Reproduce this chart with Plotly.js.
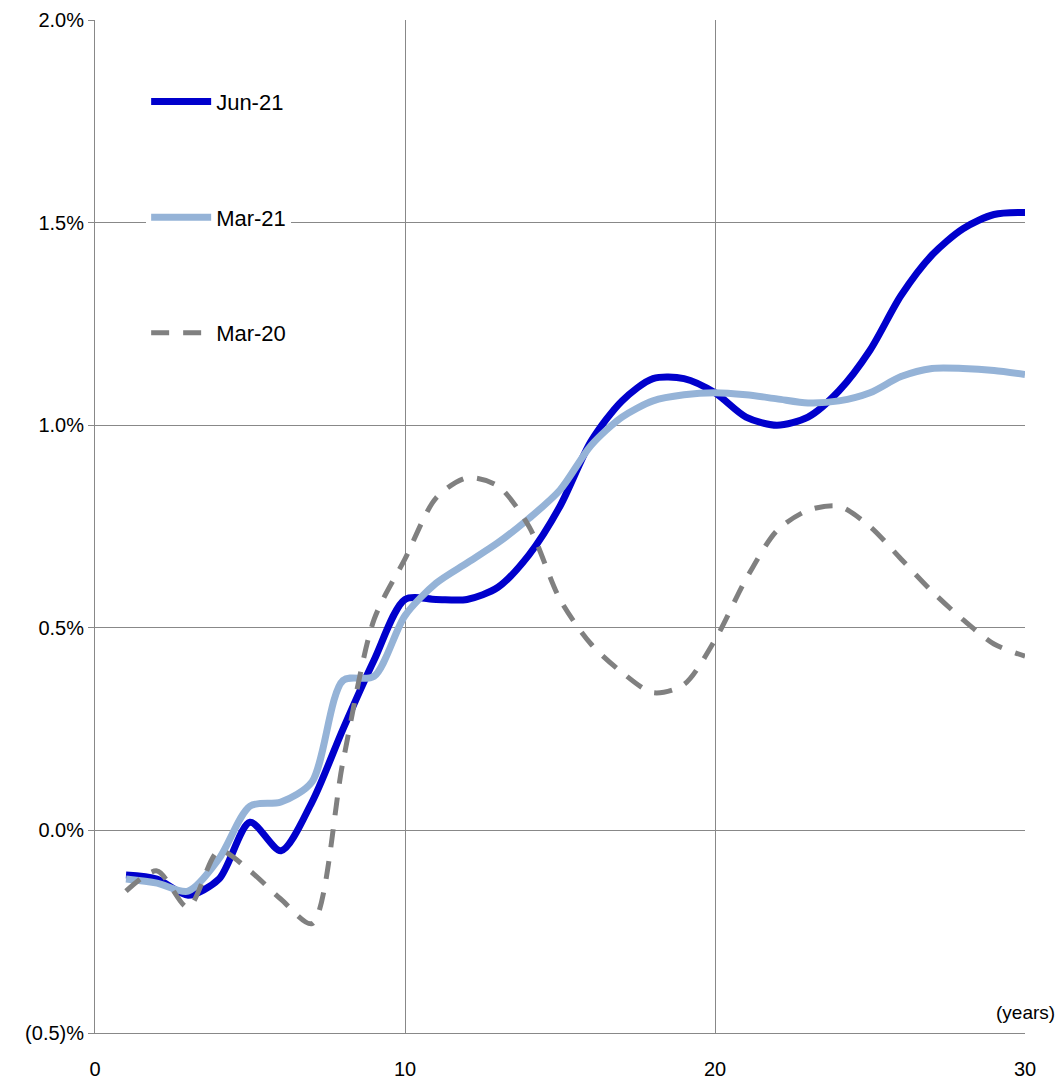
<!DOCTYPE html>
<html><head><meta charset="utf-8">
<script src="https://cdn.plot.ly/plotly-3.0.1.min.js"></script>
<style>body{margin:0;background:#fff}#c{width:1058px;height:1081px}</style>
</head><body><div id="c"></div>
<script>
"use strict";
const years = Array.from({length: 30}, (_, i) => i + 1);
const jun21 = [-0.11,-0.12,-0.16,-0.12,0.02,-0.05,0.07,0.25,0.42,0.57,0.57,0.57,0.60,0.68,0.80,0.96,1.06,1.115,1.115,1.08,1.02,1.00,1.02,1.085,1.185,1.32,1.42,1.485,1.52,1.525];
const mar21 = [-0.12,-0.13,-0.15,-0.07,0.06,0.07,0.12,0.37,0.38,0.53,0.61,0.66,0.71,0.77,0.84,0.95,1.02,1.06,1.075,1.08,1.075,1.065,1.055,1.06,1.08,1.12,1.14,1.14,1.135,1.125];
const mar20 = [-0.15,-0.10,-0.19,-0.05,-0.10,-0.17,-0.23,0.17,0.52,0.67,0.82,0.87,0.85,0.75,0.57,0.46,0.39,0.34,0.36,0.47,0.62,0.74,0.79,0.80,0.75,0.67,0.59,0.52,0.46,0.43];
const yTicks = [-0.5, 0, 0.5, 1.0, 1.5, 2.0];
const yLabels = ["(0.5)%", "0.0%", "0.5%", "1.0%", "1.5%", "2.0%"];

const mk = (name, y, color, width, dash) => ({
  type: "scatter", mode: "lines", name, legendgroup: name, x: years, y,
  line: {color, width, dash, shape: "spline", smoothing: 0.8}
});

Plotly.newPlot("c", [
  mk("Jun-21", jun21, "#0000cc", 7, "solid"),
  mk("Mar-21", mar21, "#95b3d7", 7, "solid"),
  mk("Mar-20", mar20, "#808080", 5, "18px,14px")
], {
  width: 1058, height: 1081,
  margin: {l: 95, r: 33, t: 20, b: 48},
  paper_bgcolor: "#fff", plot_bgcolor: "#fff",
  font: {family: "Liberation Sans, Arial, sans-serif", size: 20, color: "#000"},
  showlegend: true,
  legend: {x: 0.055, y: 0.94, xanchor: "left", yanchor: "top", bgcolor: "#fff",
    tracegroupgap: 84, itemwidth: 60, font: {size: 22}, traceorder: "grouped"},
  xaxis: {range: [0, 30], tickvals: [0, 10, 20, 30], showgrid: true, gridcolor: "#888",
    gridwidth: 1.3, zeroline: false, showline: true, linecolor: "#888", ticks: "outside",
    ticklen: 18, tickcolor: "rgba(0,0,0,0)"},
  yaxis: {range: [-0.5, 2.0], tickvals: yTicks, ticktext: yLabels, showgrid: true,
    gridcolor: "#888", gridwidth: 1.3, zeroline: false, showline: true, linecolor: "#888",
    ticks: "outside", ticklen: 6, tickcolor: "#888"},
  annotations: [{x: 30, y: -0.5, xref: "x", yref: "y", text: "(years)", showarrow: false,
    xanchor: "center", yanchor: "bottom", yshift: 8, font: {size: 19}, bgcolor: "#fff"}]
}, {displayModeBar: false});
</script></body></html>
